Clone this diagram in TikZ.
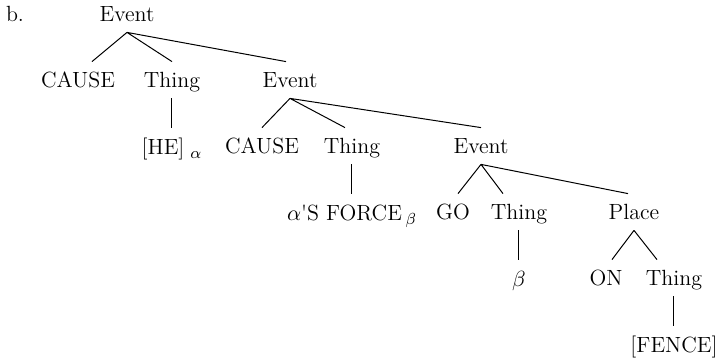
\documentclass[tikz,border=0pt]{standalone}
\usepackage{fontspec}
\usetikzlibrary{positioning}
\tikzset{
  cat/.style    = {anchor=base, inner sep=0pt, text height=13pt, text depth=5pt,
                   font=\fontsize{11}{13}\selectfont},
  branch/.style = {draw, line width=0.5pt}
}

\begin{document}
\begin{tikzpicture}[x=0.5pt, y=-0.5pt, node distance=15pt]
\useasboundingbox (0,0) rectangle (720,358);

% label of the example
\node[cat] (lbl) at (15,22) {b.};
% the top event and its daughters
\node[cat] (ev1) at (127,22) {Event};
\node[cat] (cause1) at (78,88) {CAUSE};
\node[cat] (th1) at (172,88) {Thing};
\node[cat] (ev2) at (290,88) {Event};
% the embedded event
\node[cat] (cause2) at (262,154) {CAUSE};
\node[cat] (th2) at (352,154) {Thing};
\node[cat] (ev3) at (481,154) {Event};
% the motion event
\node[cat] (go) at (453,220) {GO};
\node[cat] (th3) at (519,220) {Thing};
\node[cat] (place) at (634,220) {Place};
\node[cat] (on) at (606,286) {ON};
\node[cat] (th4) at (674,286) {Thing};
% the leaves, relatively positioned nodes
\begin{scope}[every node/.style={cat}]
\node [below=of th1] (he) {[HE]\hspace{3pt}$_{\alpha}$};
\node [below=of th2] (force) {$\alpha$\textquotesingle S FORCE\,$_{\beta}$};
\node [below=of th3] (beta) {$\beta$};
\node [below=of th4] (fence) {[FENCE]};
\end{scope}

\path[branch] (ev1.south) -- ([xshift=7pt]cause1.north)
              (ev1.south) -- (th1.north)
              (ev1.south) -- ([xshift=-2pt]ev2.north);
\path[branch] (th1.south) -- (he.north);
\path[branch] (ev2.south) -- (cause2.north)
              (ev2.south) -- ([xshift=-3.5pt]th2.north)
              (ev2.south) -- (ev3.north);
\path[branch] (th2.south) -- (force.north);
\path[branch] (ev3.south) -- ([xshift=2.5pt]go.north)
              (ev3.south) -- ([xshift=-8pt]th3.north)
              (ev3.south) -- ([xshift=-3pt]place.north);
\path[branch] (th3.south) -- (beta.north);
\path[branch] (place.south) -- ([xshift=3pt]on.north)
              (place.south) -- ([xshift=-8.5pt]th4.north);
\path[branch] (th4.south) -- (fence.north);
\end{tikzpicture}
\end{document}
